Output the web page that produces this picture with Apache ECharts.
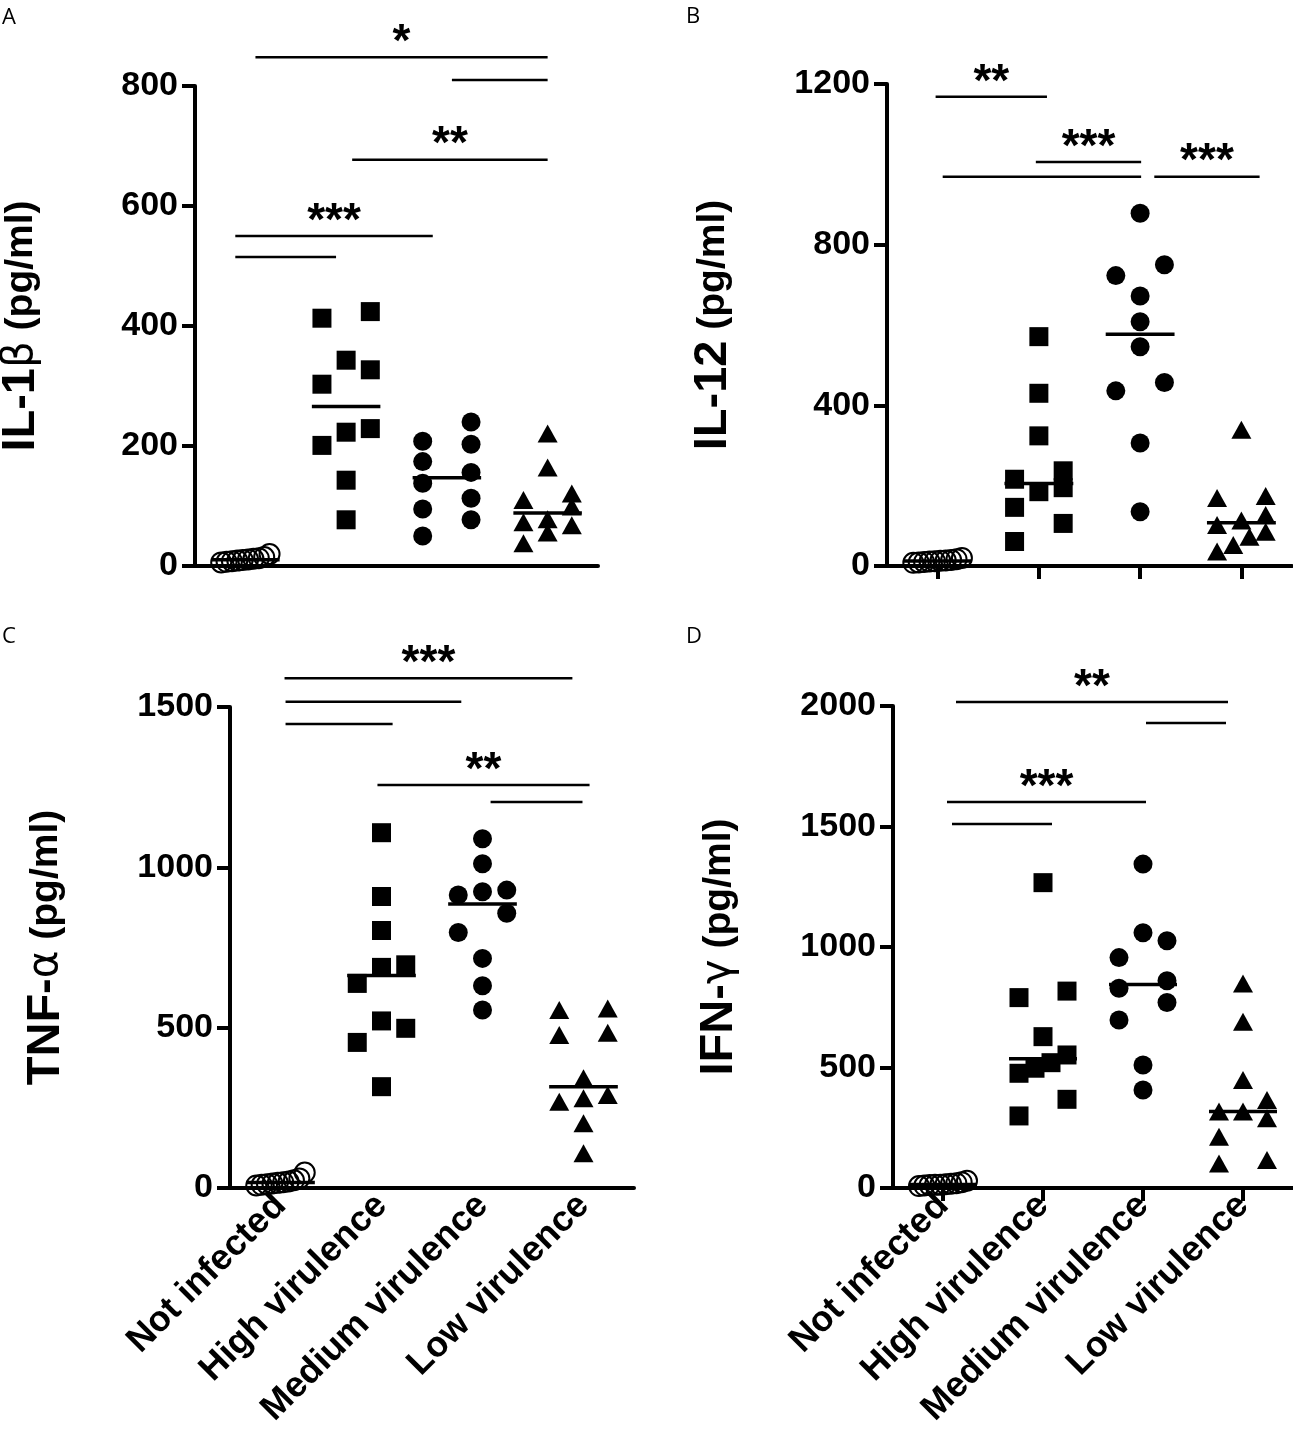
<!DOCTYPE html>
<html>
<head>
<meta charset="utf-8">
<script src="https://cdn.jsdelivr.net/npm/echarts@6/dist/echarts.min.js"></script>
<style>
html, body { margin: 0; padding: 0; background: #fff; }
#chart { width: 1293px; height: 1450px; }
</style>
</head>
<body>
<div id="chart"></div>
<script>
var groups = ['Not infected', 'High virulence', 'Medium virulence', 'Low virulence'];

// A - IL-1β (pg/ml)
var notA  = [6, 7, 8, 9, 10, 11, 12, 13, 15, 20];
var highA = [424, 413, 343, 327, 303, 229, 223, 201, 143, 77];
var medA  = [240, 208, 203, 174, 156, 138, 113, 95, 77, 50];
var lowA  = [221, 164, 121, 110, 99, 78, 73, 68, 56, 38];

// B - IL-12 (pg/ml)
var notB  = [8, 9, 10, 11, 12, 13, 14, 15, 17, 20];
var highB = [571, 430, 324, 237, 216, 195, 185, 146, 106, 61];
var medB  = [878, 750, 723, 672, 608, 546, 457, 436, 306, 135];
var lowB  = [339, 174, 169, 127, 113, 102, 85, 73, 52, 36];

// C - TNF-α (pg/ml)
var notC  = [8, 10, 12, 14, 16, 18, 20, 24, 30, 48];
var highC = [1108, 909, 803, 696, 688, 638, 521, 498, 454, 316];
var medC  = [1089, 1011, 929, 924, 914, 857, 797, 716, 631, 555];
var lowC  = [560, 555, 484, 477, 342, 290, 280, 269, 202, 108];

// D - IFN-γ (pg/ml)
var notD  = [8, 10, 12, 13, 14, 16, 18, 20, 24, 30];
var highD = [1267, 817, 790, 628, 552, 520, 497, 476, 368, 299];
var medD  = [1344, 1059, 1026, 956, 860, 829, 770, 697, 510, 407];
var lowD  = [849, 690, 448, 365, 317, 317, 289, 213, 116, 102];

// significance bars: [from group, to group, value, stars]
var barsA = [[0.1, 3.0, 848, '*'], [2.05, 3.0, 810, ''], [1.06, 3.0, 677, '**'], [-0.1, 1.86, 550, '***'], [-0.1, 0.9, 515, '']];
var barsB = [[-0.02, 1.08, 1168, '**'], [0.97, 2.01, 1006, '***'], [0.05, 2.01, 969, ''], [2.14, 3.18, 969, '***']];
var barsC = [[0.04, 2.89, 1590, '***'], [0.05, 1.79, 1516, ''], [0.05, 1.11, 1447, ''], [0.96, 3.06, 1257, '**'], [2.08, 2.99, 1204, '']];
var barsD = [[0.13, 2.85, 2017, '**'], [2.03, 2.83, 1929, ''], [0.04, 2.03, 1602, '***'], [0.09, 1.09, 1510, '']];

var yMaxes = [800, 1200, 1500, 2000];
var yIntervals = [200, 400, 500, 500];

var panels = [
    { title: '{a|IL-1}{g|β}{b| (pg/ml)}', sets: [notA, highA, medA, lowA], bars: barsA,
      grid: { left: 195, top: 86, width: 403, height: 480 }, ticks: false, labels: false, gap: 150 },
    { title: '{a|IL-12}{b| (pg/ml)}', sets: [notB, highB, medB, lowB], bars: barsB,
      grid: { left: 887, top: 84, width: 405, height: 482 }, ticks: true, labels: false, gap: 150 },
    { title: '{a|TNF-}{g|α}{b| (pg/ml)}', sets: [notC, highC, medC, lowC], bars: barsC,
      grid: { left: 230, top: 707, width: 404, height: 481 }, ticks: false, labels: true, gap: 160 },
    { title: '{a|IFN-}{g|γ}{b| (pg/ml)}', sets: [notD, highD, medD, lowD], bars: barsD,
      grid: { left: 893, top: 706, width: 400, height: 482 }, ticks: true, labels: true, gap: 150 }
];

var FONT = 'Liberation Sans, Arial, sans-serif';

function median(arr) {
    var s = arr.slice().sort(function (a, b) { return a - b; });
    var m = Math.floor(s.length / 2);
    return s.length % 2 ? s[m] : (s[m - 1] + s[m]) / 2;
}

// prism-like column scatter: bin by value, spread each bin sideways
function spread(values, gi, yMax, plotH) {
    var binH = yMax * 20 / plotH;
    var s = values.slice().sort(function (a, b) { return a - b; });
    var out = [];
    var i = 0;
    while (i < s.length) {
        var j = i;
        while (j + 1 < s.length && s[j + 1] - s[i] < binH) j++;
        var n = j - i + 1;
        for (var k = 0; k < n; k++) {
            var off = n === 1 ? 0 : -0.24 + 0.48 * k / (n - 1);
            out.push([gi + off, s[i + k]]);
        }
        i = j + 1;
    }
    return out;
}

var symbolStyles = [
    { symbol: 'circle', symbolSize: 20, itemStyle: { color: 'rgba(255,255,255,0)', borderColor: '#000', borderWidth: 2, opacity: 1 } },
    { symbol: 'rect', symbolSize: 19, itemStyle: { color: '#000', opacity: 1 } },
    { symbol: 'circle', symbolSize: 19, itemStyle: { color: '#000', opacity: 1 } },
    { symbol: 'triangle', symbolSize: [20, 18], itemStyle: { color: '#000', opacity: 1 } }
];

var grids = [], xAxes = [], yAxes = [], series = [];

panels.forEach(function (p, pi) {
    var g = p.grid;
    g.containLabel = false;
    g.outerBoundsMode = 'none';
    grids.push(g);
    xAxes.push({
        type: 'category', gridIndex: pi, data: groups, boundaryGap: true,
        axisLine: { onZero: false, lineStyle: { color: '#000', width: 4 } },
        axisTick: { show: p.ticks, alignWithLabel: true, length: 13, lineStyle: { color: '#000', width: 4 } },
        axisLabel: { show: p.labels, rotate: 45, margin: 12, interval: 0, color: '#000',
            fontFamily: FONT, fontWeight: 'bold', fontSize: 36 },
        splitLine: { show: false }
    });
    xAxes.push({ type: 'value', gridIndex: pi, min: -0.5, max: 3.5, show: false });
    yAxes.push({
        type: 'value', gridIndex: pi, min: 0, max: yMaxes[pi], interval: yIntervals[pi],
        name: p.title, nameLocation: 'middle', nameRotate: 90, nameGap: p.gap,
        nameTextStyle: {
            color: '#000',
            rich: {
                a: { fontFamily: FONT, fontWeight: 'bold', fontSize: 47, color: '#000' },
                g: { fontFamily: 'DejaVu Sans', fontWeight: 'normal', fontSize: 42, color: '#000' },
                b: { fontFamily: FONT, fontWeight: 'bold', fontSize: 39, color: '#000' }
            }
        },
        axisLine: { show: true, onZero: false, lineStyle: { color: '#000', width: 4 } },
        axisTick: { show: true, length: 13, lineStyle: { color: '#000', width: 4 } },
        axisLabel: { margin: 17, color: '#000', fontFamily: FONT, fontWeight: 'bold', fontSize: 34,
            formatter: function (v) { return String(v); } },
        splitLine: { show: false }
    });

    var xi = pi * 2 + 1;
    p.sets.forEach(function (vals, gi) {
        var st = symbolStyles[gi];
        series.push({
            type: 'scatter', xAxisIndex: xi, yAxisIndex: pi, clip: false, silent: true,
            symbol: st.symbol, symbolSize: st.symbolSize, itemStyle: st.itemStyle,
            data: spread(vals, gi, yMaxes[pi], p.grid.height), z: 3
        });
        var m = median(vals);
        series.push({
            type: 'line', xAxisIndex: xi, yAxisIndex: pi, clip: false, silent: true, symbol: 'none',
            lineStyle: { color: '#000', width: 3.5 }, z: 4,
            data: [[gi - 0.34, m], [gi + 0.34, m]]
        });
    });

    var stars = [];
    p.bars.forEach(function (b) {
        series.push({
            type: 'line', xAxisIndex: xi, yAxisIndex: pi, clip: false, silent: true, symbol: 'none',
            lineStyle: { color: '#000', width: 2.5 }, z: 4,
            data: [[b[0], b[2]], [b[1], b[2]]]
        });
        if (b[3]) stars.push({ value: [(b[0] + b[1]) / 2, b[2]], name: b[3] });
    });
    series.push({
        type: 'scatter', xAxisIndex: xi, yAxisIndex: pi, clip: false, silent: true,
        symbolSize: 1, itemStyle: { color: 'rgba(0,0,0,0)', opacity: 1 }, z: 5,
        label: { show: true, position: 'inside', offset: [0, -14], formatter: '{b}',
            color: '#000', fontFamily: FONT, fontWeight: 'bold', fontSize: 46 },
        data: stars
    });
});

var letters = [['A', 2, 7], ['B', 686, 6], ['C', 2, 626], ['D', 686, 626]];

var chart = echarts.init(document.getElementById('chart'));
chart.setOption({
    animation: false,
    backgroundColor: '#fff',
    grid: grids,
    xAxis: xAxes,
    yAxis: yAxes,
    series: series,
    graphic: letters.map(function (l) {
        return { type: 'text', left: l[1], top: l[2],
            style: { text: l[0], fill: '#000', font: '22px "Open Sans", sans-serif' } };
    })
});
</script>
</body>
</html>
